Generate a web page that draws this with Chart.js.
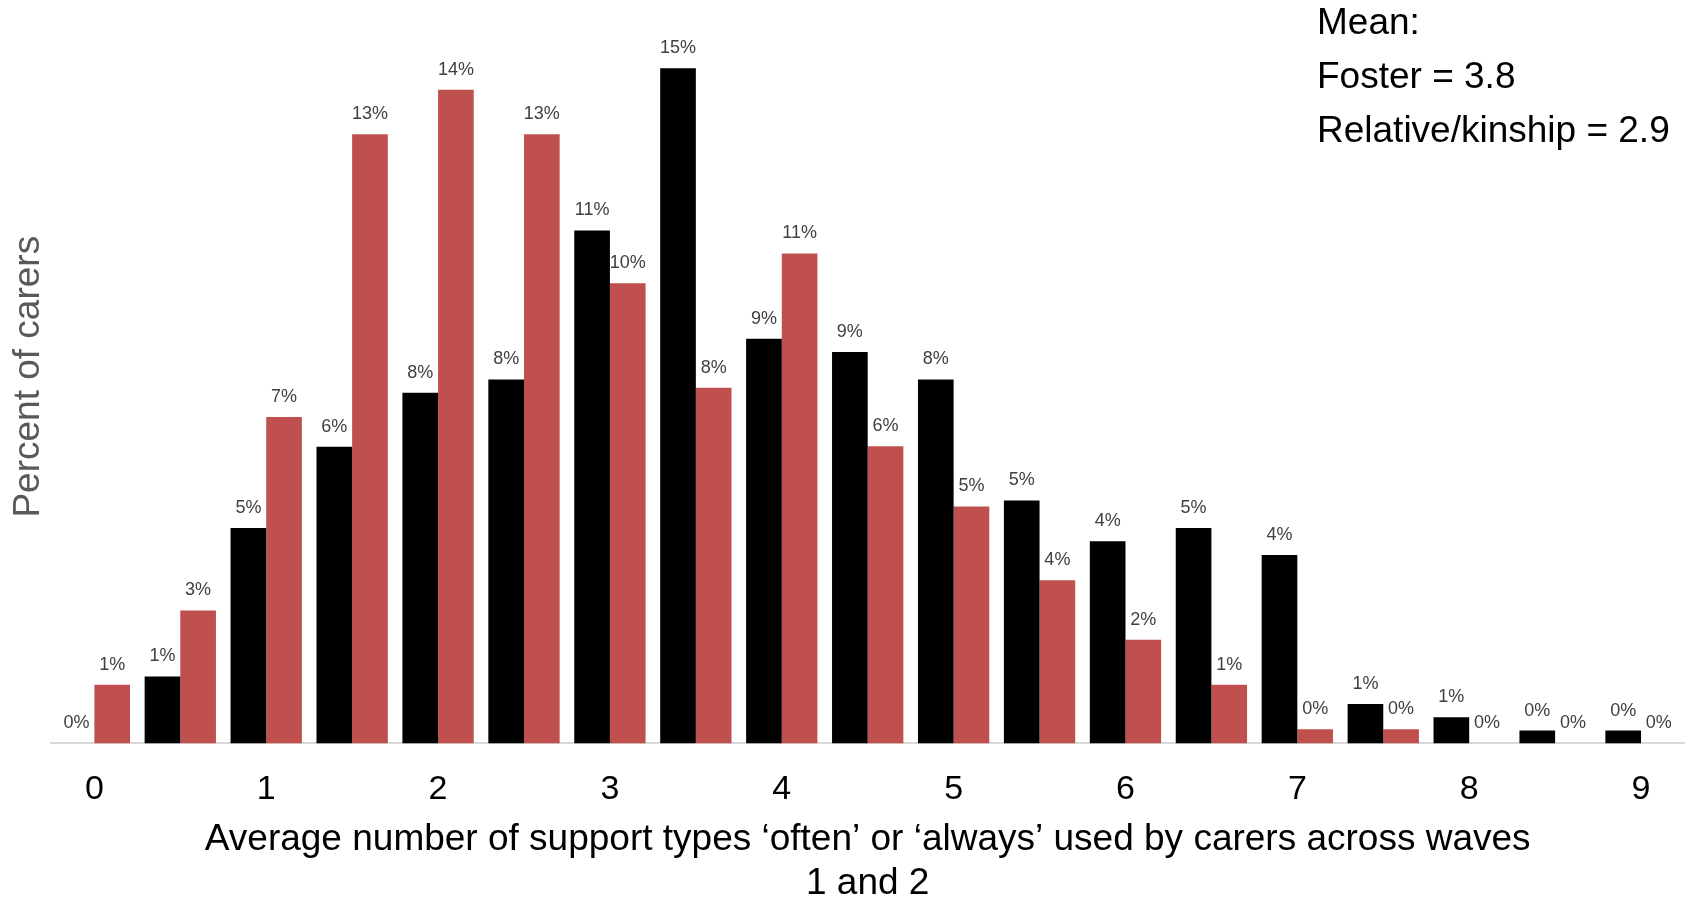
<!DOCTYPE html>
<html>
<head>
<meta charset="utf-8">
<script src="https://cdn.jsdelivr.net/npm/chart.js@4.4.0/dist/chart.umd.min.js"></script>
<style>
  html, body { margin: 0; padding: 0; background: #fff; }
  #wrap { position: relative; width: 1690px; height: 897px; }
  #mean {
    position: absolute; left: 1317px; top: -5px;
    font: 37px "Liberation Sans", Arial, sans-serif;
    line-height: 54px; color: #000; white-space: nowrap;
  }
</style>
</head>
<body>
<div id="wrap">
  <canvas id="supportChart"></canvas>
  <div id="mean">Mean:<br>Foster = 3.8<br>Relative/kinship = 2.9</div>
</div>
<script>
// average number of support types, in half steps
var categories = ["0", "0.5", "1", "1.5", "2", "2.5", "3", "3.5", "4", "4.5",
                  "5", "5.5", "6", "6.5", "7", "7.5", "8", "8.5", "9"];
// percent of carers
var fosterPct = [0, 1.46, 4.70, 6.47, 7.65, 7.94, 11.19, 14.73, 8.83, 8.54,
                 7.94, 5.30, 4.41, 4.70, 4.11, 0.86, 0.57, 0.28, 0.28];
var kinshipPct = [1.28, 2.90, 7.12, 13.29, 14.26, 13.29, 10.04, 7.76, 10.69, 6.48,
                  5.17, 3.56, 2.26, 1.28, 0.31, 0.31, 0, 0, 0];
// only whole numbers get a label on the x axis
var tickLabels = ["0", "1", "2", "3", "4", "5", "6", "7", "8", "9"];

var FONT = '"Liberation Sans", Arial, sans-serif';

// percentage above every bar
var barLabels = {
  id: "barLabels",
  afterDatasetsDraw: function (chart) {
    var ctx = chart.ctx;
    ctx.save();
    ctx.font = "18px " + FONT;
    ctx.fillStyle = "#404040";
    ctx.textAlign = "center";
    ctx.textBaseline = "alphabetic";
    chart.data.datasets.forEach(function (ds, i) {
      chart.getDatasetMeta(i).data.forEach(function (bar, j) {
        ctx.fillText(Math.round(ds.data[j]) + "%", bar.x, bar.y - 15);
      });
    });
    ctx.restore();
  }
};

var ctx = document.getElementById("supportChart").getContext("2d");
new Chart(ctx, {
  type: "bar",
  data: {
    labels: categories,
    datasets: [
      {
        label: "Foster",
        data: fosterPct,
        backgroundColor: "#000000",
        categoryPercentage: 0.83,
        barPercentage: 1.0,
      },
      {
        label: "Relative/kinship",
        data: kinshipPct,
        backgroundColor: "#c0504d",
        categoryPercentage: 0.83,
        barPercentage: 1.0,
      },
    ],
  },
  options: {
    responsive: true,
    maintainAspectRatio: false,
    animation: false,
    layout: { padding: { top: 10, right: 6, left: 0, bottom: 0 } },
    plugins: {
      legend: { display: false },
      tooltip: { enabled: false },
    },
    scales: {
      x: {
        grid: { display: false, drawTicks: false },
        border: { display: true, color: "#d9d9d9", width: 2 },
        ticks: {
          color: "#000",
          font: { family: FONT, size: 34 },
          padding: 26,
          autoSkip: false,
          maxRotation: 0,
          callback: function (value, index) {
            var c = categories[index];
            return tickLabels.indexOf(c) >= 0 ? c : "";
          },
        },
        title: {
          display: true,
          text: ["Average number of support types \u2018often\u2019 or \u2018always\u2019 used by carers across waves", "1 and 2"],
          color: "#000",
          font: { family: FONT, size: 37, lineHeight: 1.2 },
          padding: { top: -19, bottom: -9 },
        },
      },
      y: {
        min: 0,
        max: 16,
        grid: { display: false, drawTicks: false },
        border: { display: false },
        ticks: { display: false },
        title: {
          display: true,
          text: "Percent of carers",
          color: "#595959",
          font: { family: FONT, size: 37 },
          padding: { top: 7, bottom: 0 },
        },
      },
    },
  },
  plugins: [barLabels],
});
</script>
</body>
</html>
